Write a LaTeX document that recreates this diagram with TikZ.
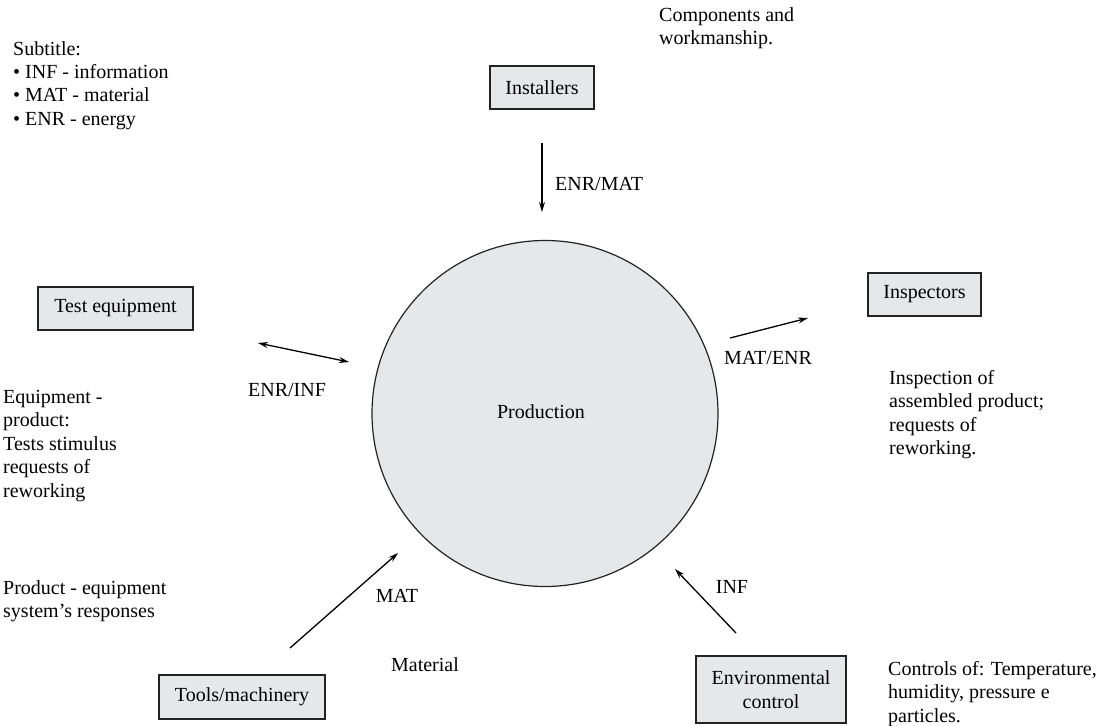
\documentclass[tikz,border=0pt]{standalone}
\usepackage{fontspec}
\setmainfont{Liberation Serif}
\usetikzlibrary{arrows.meta}
\definecolor{boxgray}{RGB}{230,231,233}
\definecolor{linegray}{RGB}{35,35,35}
\begin{document}
\begin{tikzpicture}[x=1pt,y=-1pt,
  every node/.style={font=\fontsize{20}{23.4}\selectfont, text=black},
  box/.style={draw=linegray, fill=boxgray, line width=1.1pt, inner sep=0pt, align=center},
  note/.style={anchor=north west, inner sep=0pt, align=left},
  flow/.style={line width=1.3pt, draw=black, -{Stealth[length=10pt,width=6pt]}},
  flowboth/.style={line width=1.3pt, draw=black, {Stealth[length=10pt,width=6pt]}-{Stealth[length=10pt,width=6pt]}}]
  \useasboundingbox[fill=white] (0,0) rectangle (1102,725);

  % central process
  \node[circle, draw=linegray, fill=boxgray, line width=1.2pt, minimum size=346pt, inner sep=0pt] (prod) at (545,413.5) {};
  \node (prodlbl) at (541,412) {Production};

  % participants
  \node[box, minimum width=104pt, minimum height=43pt] (inst) at (542,87.5) {Installers};
  \node[box, minimum width=155pt, minimum height=43pt] (test) at (115.5,308.5) {Test equipment};
  \node[box, minimum width=113pt, minimum height=43pt] (insp) at (924.5,294.5) {Inspectors};
  \node[box, minimum width=166pt, minimum height=44pt] (tools) at (242,697) {Tools/machinery};
  \node[box, minimum width=150pt, minimum height=67pt] (env) at (771,689.5) {Environmental\\control};

  % legend and notes
  \node[note] (legend) at (13,41) {Subtitle:\\\textbullet\ INF - information\\\textbullet\ MAT - material\\\textbullet\ ENR - energy};
  \node[note] (instnote) at (659,7) {Components and\\workmanship.};
  \node[note] (testnote) at (3,390) {Equipment -\\product:\\Tests stimulus\\requests of\\reworking};
  \node[note] (respnote) at (3,580) {Product - equipment\\system’s responses};
  \node[note] (inspnote) at (889,370) {Inspection of\\assembled product;\\requests of\\reworking.};
  \node[note] (envnote) at (888,661) {Controls of: Temperature,\\humidity, pressure e\\particles.};

  % flow end points
  \coordinate (instA) at (542,143);
  \coordinate (instB) at (542,212);
  \coordinate (testA) at (258,343);
  \coordinate (testB) at (349,362);
  \coordinate (inspA) at (730,338);
  \coordinate (inspB) at (808,318);
  \coordinate (toolA) at (290,648);
  \coordinate (toolB) at (398,553);
  \coordinate (envA) at (736,633);
  \coordinate (envB) at (675,569);

  % flows
  \draw[flow] (instA) -- (instB);
  \draw[flowboth] (testA) -- (testB);
  \draw[flow] (inspA) -- (inspB);
  \draw[flow] (toolA) -- (toolB);
  \draw[flow] (envA) -- (envB);

  % flow labels
  \node[anchor=west, inner sep=0pt] (lblinst) at (555,184) {ENR/MAT};
  \node (lbltest) at (287,390) {ENR/INF};
  \node[anchor=west, inner sep=0pt] (lblinsp) at (724,358) {MAT/ENR};
  \node (lbltool) at (397,596) {MAT};
  \node (lblmat) at (425,665) {Material};
  \node (lblenv) at (732,587) {INF};
\end{tikzpicture}
\end{document}
